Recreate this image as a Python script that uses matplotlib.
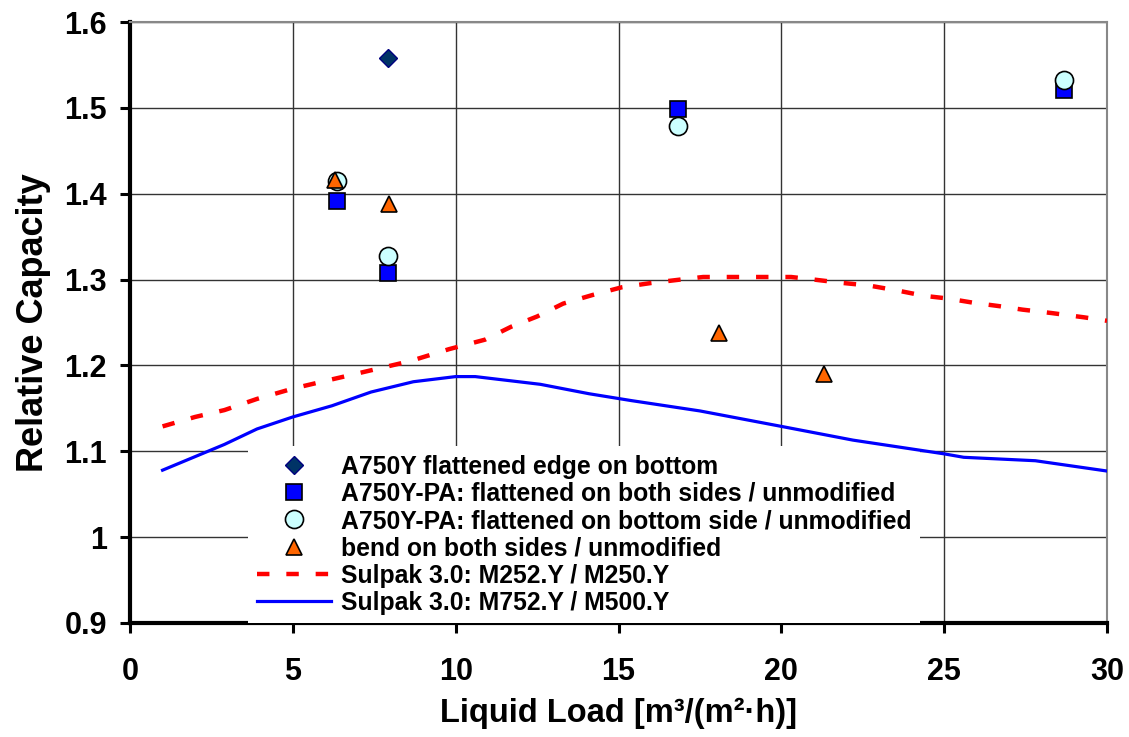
import matplotlib
matplotlib.use("Agg")
import matplotlib.pyplot as plt

# ---- data ----
diamond_x = [7.93]
diamond_y = [1.558]

square_x = [6.35, 7.93, 16.84, 28.67]
square_y = [1.391, 1.308, 1.499, 1.521]

circle_x = [6.35, 7.93, 16.84, 28.67]
circle_y = [1.415, 1.327, 1.479, 1.532]

triangle_x = [6.29, 7.94, 18.1, 21.32]
triangle_y = [1.416, 1.388, 1.2375, 1.190]

red_x = [1, 2, 2.9, 3.9, 5, 6, 6.8, 7.7, 8.6, 9.8, 10.9, 11.7, 12.5, 13.3, 14.2, 15.1,
         16, 16.9, 17.6, 20.3, 21, 21.9, 22.7, 23.6, 24.4, 25.1, 25.9, 26.7, 27.4, 28.3,
         29.3, 30]
red_y = [1.129, 1.140, 1.148, 1.161, 1.173, 1.182, 1.189, 1.197, 1.205, 1.219, 1.230,
         1.245, 1.257, 1.272, 1.282, 1.291, 1.296, 1.300, 1.303, 1.303, 1.300, 1.296,
         1.293, 1.287, 1.281, 1.278, 1.273, 1.269, 1.265, 1.261, 1.256, 1.252]

blue_x = [1, 2.9, 3.9, 5, 6.2, 7.4, 8.7, 10, 10.6, 12.6, 14.1, 15.4, 17.5, 20, 22.2,
          25, 25.6, 27.8, 30]
blue_y = [1.078, 1.108, 1.126, 1.140, 1.153, 1.169, 1.181, 1.187, 1.187, 1.178, 1.167,
          1.159, 1.147, 1.129, 1.113, 1.097, 1.093, 1.089, 1.077]

labels = [
    "A750Y flattened edge on bottom",
    "A750Y-PA: flattened on both sides / unmodified",
    "A750Y-PA: flattened on bottom side / unmodified",
    "bend on both sides / unmodified",
    "Sulpak 3.0: M252.Y / M250.Y",
    "Sulpak 3.0: M752.Y / M500.Y",
]
x_ticks = [0, 5, 10, 15, 20, 25, 30]
y_ticks = [0.9, 1.0, 1.1, 1.2, 1.3, 1.4, 1.5, 1.6]
y_tick_labels = ["0.9", "1", "1.1", "1.2", "1.3", "1.4", "1.5", "1.6"]

plt.rcParams['font.family'] = ['Liberation Sans', 'DejaVu Sans']
plt.rcParams['font.weight'] = 'bold'

fig = plt.figure(figsize=(11.29, 7.37), dpi=100)
ax = fig.add_axes([130 / 1129, 1 - 623 / 737, 977 / 1129, 601 / 737])

h1, = ax.plot(diamond_x, diamond_y, linestyle='none', marker='D', markersize=9.2,
              markerfacecolor='#003366', markeredgecolor='#000080', markeredgewidth=1.0, zorder=5)
h2, = ax.plot(square_x, square_y, linestyle='none', marker='s', markersize=11.3,
              markerfacecolor='#0000FF', markeredgecolor='black', markeredgewidth=1.2, zorder=5)
h3, = ax.plot(circle_x, circle_y, linestyle='none', marker='o', markersize=13,
              markerfacecolor='#CCFFFF', markeredgecolor='black', markeredgewidth=1.2, zorder=6)
h4, = ax.plot(triangle_x, triangle_y, linestyle='none', marker='^', markersize=12,
              markerfacecolor='#FF6600', markeredgecolor='black', markeredgewidth=1.2, zorder=7)
h5, = ax.plot(red_x, red_y, color='#FF0000', linewidth=3.2, dashes=(2.8, 3.8),
              dash_capstyle='butt', zorder=4)
h6, = ax.plot(blue_x, blue_y, color='#0000FF', linewidth=2.3, zorder=4)

ax.set_xlim(0, 30)
ax.set_ylim(0.9, 1.6)
ax.set_xticks(x_ticks)
ax.set_yticks(y_ticks)
ax.set_yticklabels(y_tick_labels)
ax.grid(True, color='#333333', linewidth=1.0, zorder=0)
ax.set_axisbelow(True)

for s in ['top', 'right']:
    ax.spines[s].set_color('#888888')
    ax.spines[s].set_linewidth(1.5)
for s in ['left', 'bottom']:
    ax.spines[s].set_color('black')
    ax.spines[s].set_linewidth(3.0)

ax.tick_params(axis='both', direction='out', length=7.5, width=2.2, labelsize=22)
ax.tick_params(axis='x', pad=17)
ax.tick_params(axis='y', pad=9)

ax.set_xlabel("Liquid Load [m³/(m²·h)]", fontsize=23.5, fontweight='bold', labelpad=8)
ax.set_ylabel("Relative Capacity", fontsize=26, fontweight='bold', labelpad=10)

leg = ax.legend([h1, h2, h3, h4, h5, h6], labels, loc='upper left',
                bbox_to_anchor=(118 / 977, 177 / 601), borderaxespad=0,
                prop={'family': 'Liberation Sans', 'weight': 'bold', 'size': 17.8},
                frameon=True, fancybox=False, framealpha=1.0, edgecolor='none',
                facecolor='white', handlelength=3.0, handletextpad=0.4,
                labelspacing=0.13, borderpad=0.35)
leg.set_zorder(3)

fig.savefig("out.png", dpi=100)
